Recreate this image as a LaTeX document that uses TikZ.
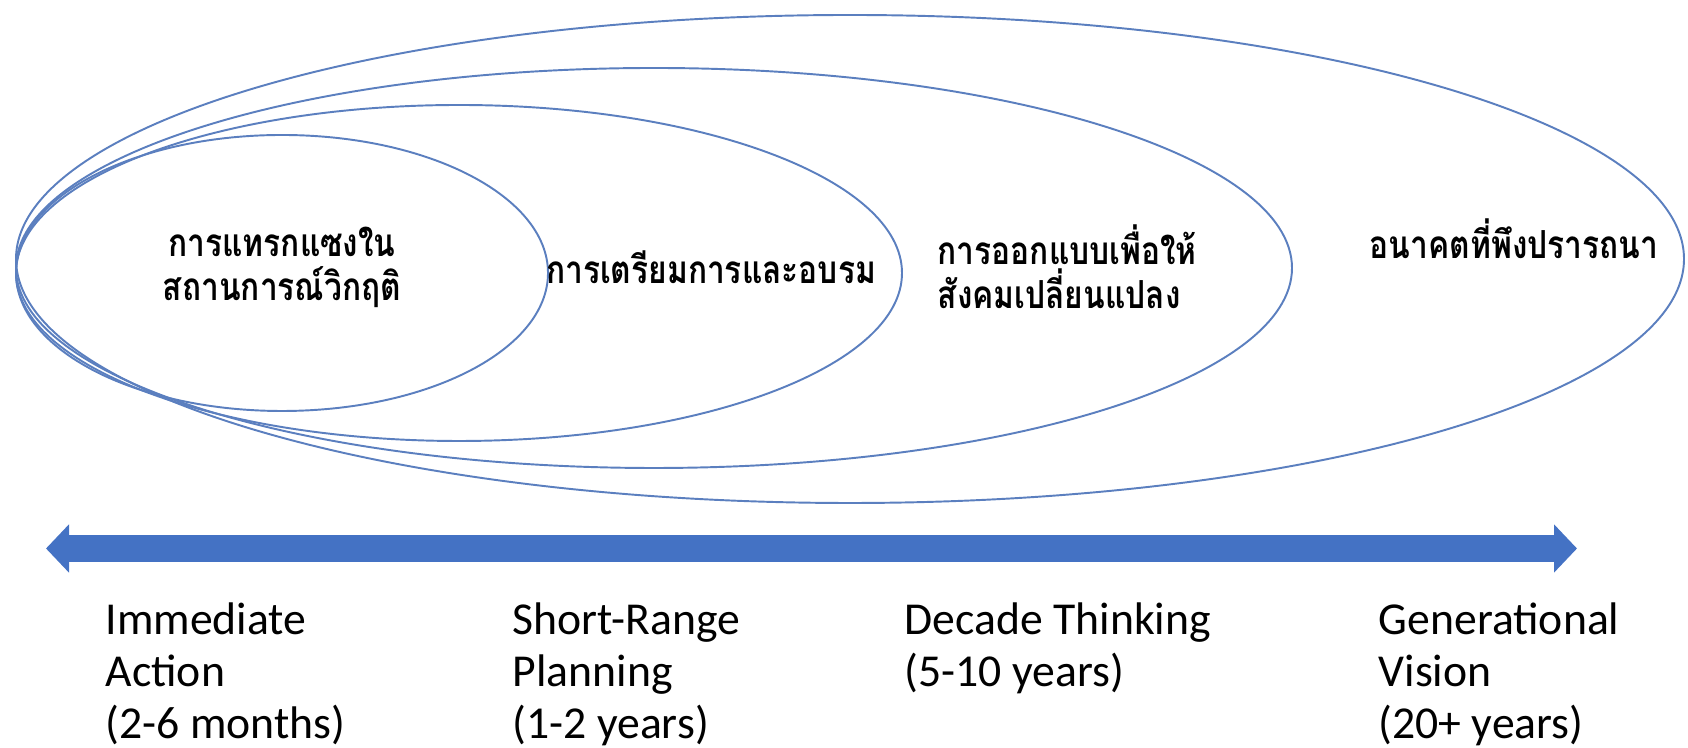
\documentclass[tikz,border=0pt]{standalone}
\usepackage{fontspec}
\setmainfont{Carlito}
\newfontfamily\thaifont[Script=Thai, FakeStretch=0.82]{Loma}
\usetikzlibrary{arrows.meta,positioning}
\definecolor{ringblue}{HTML}{5B7FBF}
\definecolor{arrowblue}{HTML}{4472C4}

\begin{document}
\begin{tikzpicture}[
    ring/.style={ringblue, line width=0.55pt},
    thai/.style={font=\thaifont\bfseries\fontsize{11}{12.5}\selectfont, inner sep=0pt},
    span/.style={font=\fontsize{13}{14.8}\selectfont, align=left, anchor=north west, inner sep=0pt}
]
\useasboundingbox (0,0) rectangle (16.88,7.48);

% Rings
\draw[ring] (8.50,4.89) ellipse (8.34 and 2.44);
\draw[ring] (6.54,4.80) ellipse (6.38 and 2.00);
\draw[ring] (4.59,4.75) ellipse (4.43 and 1.68);
\draw[ring] (2.82,4.75) ellipse (2.66 and 1.38);

% Ring texts
\node[thai, align=center] (crisis) at (2.82,4.81) {การแทรกแซงใน\\สถานการณ์วิกฤติ};
\node[thai, align=center] (training) at (7.11,4.81) {การเตรียมการและอบรม};
\node[thai, align=left, anchor=west] (design) at (9.37,4.81) {การออกแบบเพื่อให้\\สังคมเปลี่ยนแปลง};
\node[thai, align=center] (future) at (15.14,5.09) {อนาคตที่พึงปรารถนา};

% Time axis
\coordinate (now) at (0.46,1.995);
\coordinate (later) at (15.77,1.995);
\draw[arrowblue, line width=2.7mm,
      {Triangle[width=4.7mm,length=2.3mm]}-{Triangle[width=4.7mm,length=2.3mm]}]
      (now) -- (later);

% Horizons
\node[span] (immediate) at (1.05,1.46) {Immediate\\Action\\(2-6 months)};
\node[span] (short)     at (5.12,1.46) {Short-Range\\Planning\\(1-2 years)};
\node[span] (decade)    at (9.04,1.46) {Decade Thinking\\(5-10 years)};
\node[span] (vision)    at (13.78,1.46) {Generational\\Vision\\(20+ years)};

\end{tikzpicture}
\end{document}
